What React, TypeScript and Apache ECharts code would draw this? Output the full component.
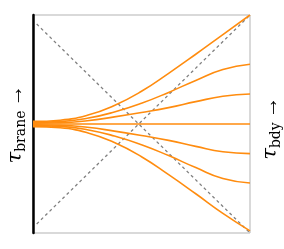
import React, { useEffect, useRef } from "react";
import * as echarts from "echarts";

const xs = [0, 0.25, 0.5, 0.75, 1.0, 1.25, 1.5, 1.75, 2.0];
const curve1 = [0.024, 0.035, 0.08, 0.17, 0.3, 0.465, 0.64, 0.82, 1.0];
const curve2 = [0.015, 0.022, 0.052, 0.11, 0.19, 0.29, 0.4, 0.5, 0.548];
const curve3 = [0.007, 0.011, 0.03, 0.065, 0.105, 0.15, 0.205, 0.255, 0.275];
const curve4 = [0, 0, 0, 0, 0, 0, 0, 0, 0];
const curve5 = [-0.007, -0.011, -0.03, -0.065, -0.105, -0.15, -0.205, -0.255, -0.272];
const curve6 = [-0.015, -0.022, -0.052, -0.11, -0.19, -0.29, -0.4, -0.5, -0.541];
const curve7 = [-0.024, -0.035, -0.08, -0.17, -0.3, -0.465, -0.64, -0.82, -0.98];
const curves = [curve1, curve2, curve3, curve4, curve5, curve6, curve7];

const diagDown = [[0.034, 0.917], [2, -1]];
const diagUp = [[0.034, -0.917], [2, 1]];

const leftLabel = ["τ", "brane", "→"];
const rightLabel = ["τ", "bdy", "→"];

const ORANGE = "#ff8c0f";

export default function App() {
  const ref = useRef<HTMLDivElement>(null);
  useEffect(() => {
    if (!ref.current) return;
    const chart = echarts.init(ref.current, null, { renderer: "svg" });
    const rich = {
      t: { fontFamily: "DejaVu Serif", fontStyle: "italic", fontSize: 21, color: "#000", lineHeight: 26 },
      s: { fontFamily: "DejaVu Serif", fontSize: 14, color: "#000", verticalAlign: "bottom", lineHeight: 26 },
      a: { fontFamily: "Liberation Serif", fontSize: 22, color: "#000", lineHeight: 26, padding: [0, 0, 0, 4] },
    };
    chart.setOption({
      animation: false,
      grid: {
        left: 33,
        right: 34,
        top: 15,
        bottom: 16,
        show: true,
        borderColor: "#b3b3b3",
        borderWidth: 1,
      },
      xAxis: {
        type: "value",
        min: 0,
        max: 2,
        axisLine: { show: false },
        axisTick: { show: false },
        axisLabel: { show: false },
        splitLine: { show: false },
      },
      yAxis: {
        type: "value",
        min: -1,
        max: 1,
        axisLine: { show: true, onZero: false, lineStyle: { color: "#000", width: 2.5 } },
        axisTick: { show: false },
        axisLabel: { show: false },
        splitLine: { show: false },
      },
      series: [
        {
          type: "line",
          data: diagDown,
          symbol: "none",
          lineStyle: { color: "#808080", width: 1.3, type: [3, 3] },
          z: 1,
        },
        {
          type: "line",
          data: diagUp,
          symbol: "none",
          lineStyle: { color: "#808080", width: 1.3, type: [3, 3] },
          z: 1,
        },
        ...curves.map((c) => ({
          type: "line",
          data: xs.map((x, i) => [x, c[i]]),
          symbol: "none",
          smooth: 0.5,
          lineStyle: { color: ORANGE, width: 1.6 },
          z: 2,
        })),
      ],
      graphic: [
        {
          type: "text",
          x: 14,
          y: 124,
          rotation: Math.PI / 2,
          style: {
            text: `{t|${leftLabel[0]}}{s|${leftLabel[1]}}{a|${leftLabel[2]}}`,
            rich,
            align: "center",
            verticalAlign: "middle",
          },
        },
        {
          type: "text",
          x: 269,
          y: 128,
          rotation: Math.PI / 2,
          style: {
            text: `{t|${rightLabel[0]}}{s|${rightLabel[1]}}{a|${rightLabel[2]}}`,
            rich,
            align: "center",
            verticalAlign: "middle",
          },
        },
      ],
    });
    return () => chart.dispose();
  }, []);
  return (
    <div
      ref={ref}
      style={{ position: "fixed", left: 0, top: 0, width: 284, height: 249 }}
    />
  );
}
